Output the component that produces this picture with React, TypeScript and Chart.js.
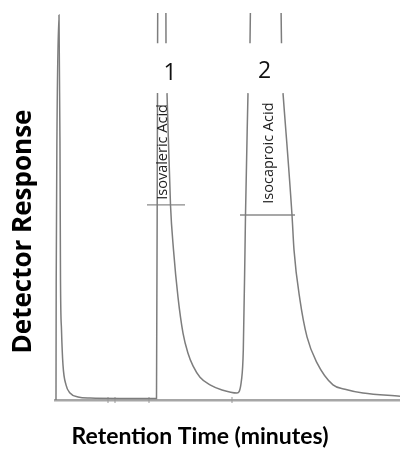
import React, { useEffect, useRef } from "react";
import { Chart, registerables } from "chart.js";

Chart.register(...registerables);

// Chromatogram trace (retention time in arbitrary minutes, detector response in %)
// null entries mark where the off-scale peaks are broken for the peak numbers.
const traceTime = [
  0.1, 0.12, 0.2, 0.4, 0.5, 0.55, 0.65, 0.8, 1.1, 1.5, 2.3, 3.5, 6.5, 10.15,
  10.25, 10.255, 10.26, 10.68, 11.1, 11.15, 11.2, 11.55, 11.85, 12.3, 12.8, 13.3, 13.8, 14.5, 15.5, 16.7, 18.2,
  18.65, 18.83, 19.0, 19.05, 19.3, 19.4, 19.5, 21.05, 22.65, 22.7, 22.8, 23.7, 23.9, 24.5, 25.2, 26.2, 27.8, 29.0, 30.8, 34.5,
];
const traceResponse: (number | null)[] = [
  0, 30, 70, 99.5, 64.6, 31.0, 18.1, 9.0, 3.9, 1.8, 0.8, 0.5, 0.4, 0.4,
  79.3, null, 92.2, 400, 92.2, null, 79.3, 50.4, 38.8, 26.6, 17.3, 12.1, 8.8, 5.9, 3.9, 2.6, 1.8,
  5.2, 12.9, 38.8, 47.8, 79.3, null, 92.2, 400, 92.2, null, 79.3, 47.8, 38.8, 25.8, 16.3, 9.6, 3.9, 2.8, 1.8, 1.0,
];

// Half-height width markers
const widthLevel = [50.4, 47.8];
const widthStart = [9.2, 18.5];
const widthEnd = [13.0, 24.0];

// Integration marks on the baseline
const markTimes = [5.3, 6.0, 9.4, 17.7];

// Peak annotations
const peakNumbers = ["1", "2"];
const numberTime = [11.5, 20.95];
const numberLevel = [84.5, 84.8];
const peakNames = ["Isovaleric Acid", "Isocaproic Acid"];
const nameTime = [10.75, 21.4];
const nameLevel = [64.1, 63.8];

const xTitle = "Retention Time (minutes)";
const yTitle = "Detector Response";

const peakNotes = {
  id: "peakNotes",
  afterDatasetsDraw(chart: any) {
    const { ctx, scales } = chart;
    const x = scales.x;
    const y = scales.y;
    ctx.save();
    ctx.textAlign = "center";
    ctx.textBaseline = "middle";
    ctx.fillStyle = "#111";
    ctx.font = "23px 'Open Sans'";
    peakNumbers.forEach((t, i) => {
      ctx.fillText(t, x.getPixelForValue(numberTime[i]), y.getPixelForValue(numberLevel[i]));
    });
    ctx.fillStyle = "#222";
    ctx.font = "14.5px 'Open Sans'";
    peakNames.forEach((t, i) => {
      ctx.save();
      ctx.translate(x.getPixelForValue(nameTime[i]), y.getPixelForValue(nameLevel[i]));
      ctx.rotate(-Math.PI / 2);
      ctx.fillText(t, 0, 0);
      ctx.restore();
    });
    ctx.restore();
  },
};

export default function App() {
  const ref = useRef<HTMLCanvasElement | null>(null);

  useEffect(() => {
    if (!ref.current) return;
    const trace = traceTime.map((t, i) => ({ x: t, y: traceResponse[i] }));
    const widthSets = widthLevel.map((lv, i) => ({
      type: "line" as const,
      data: [
        { x: widthStart[i], y: lv },
        { x: widthEnd[i], y: lv },
      ],
      borderColor: "#8a8a8a",
      borderWidth: 1.3,
      pointRadius: 0,
      pointHoverRadius: 0,
    }));
    const chart = new Chart(ref.current, {
      type: "line",
      data: {
        datasets: [
          {
            data: trace as any,
            borderColor: "#7d7d7d",
            borderWidth: 1.5,
            pointRadius: 0,
            pointHoverRadius: 0,
            cubicInterpolationMode: "monotone",
            spanGaps: false,
          },
          ...widthSets,
          {
            type: "scatter" as const,
            data: markTimes.map((t) => ({ x: t, y: 0 })),
            pointStyle: "line",
            rotation: 90,
            radius: 3,
            hoverRadius: 3,
            borderColor: "#999",
            borderWidth: 1,
            clip: false as any,
          } as any,
        ],
      },
      options: {
        animation: false,
        responsive: false,
        events: [],
        layout: { autoPadding: false, padding: { top: 13, left: 0, right: 0, bottom: 0 } },
        plugins: {
          legend: { display: false },
          tooltip: { enabled: false },
          title: {
            display: true,
            text: xTitle,
            position: "bottom",
            color: "#000",
            font: { family: "Lato", size: 23, weight: "bold", lineHeight: 1 },
            padding: { top: 25, bottom: 2 },
          },
          subtitle: {
            display: true,
            text: yTitle,
            position: "left",
            color: "#000",
            font: { family: "'Open Sans'", size: 26, weight: "bold", lineHeight: 1 },
            padding: { top: 11, bottom: 18 },
          },
        },
        scales: {
          x: {
            type: "linear",
            min: 0,
            max: 34.5,
            grid: { display: false, drawTicks: false },
            ticks: { display: false },
            border: { display: true, color: "#a6a6a6", width: 2.5 },
          },
          y: {
            type: "linear",
            min: 0,
            max: 100,
            display: false,
          },
        },
      },
      plugins: [peakNotes],
    });
    return () => chart.destroy();
  }, []);

  return (
    <div style={{ position: "absolute", left: 0, top: 0, width: 400, height: 450, background: "#fff" }}>
      <canvas ref={ref} width={400} height={450} style={{ display: "block" }} />
    </div>
  );
}
